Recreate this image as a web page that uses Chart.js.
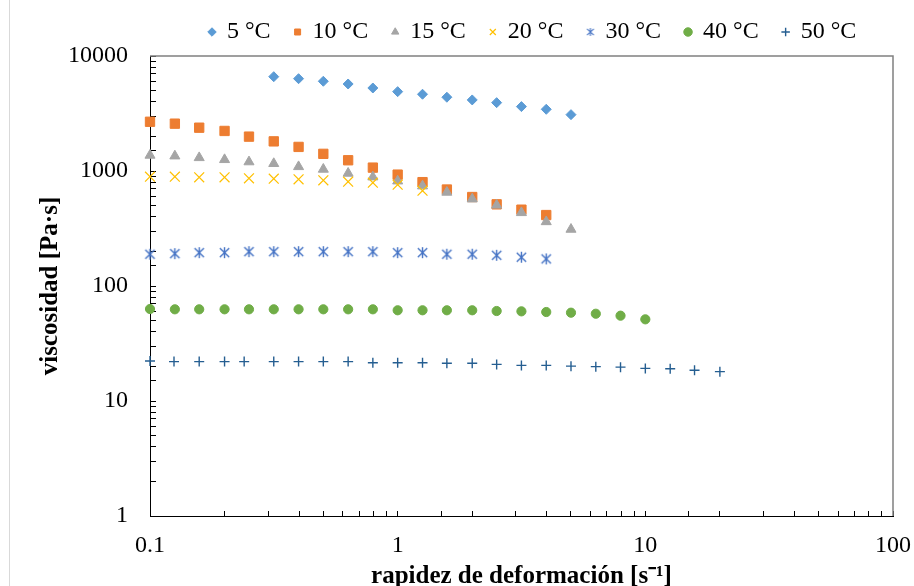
<!DOCTYPE html>
<html>
<head>
<meta charset="utf-8">
<title>Viscosidad vs rapidez de deformación</title>
<script src="https://cdn.jsdelivr.net/npm/chart.js@4.4.1/dist/chart.umd.min.js"></script>
<style>
  html, body { margin: 0; padding: 0; background: #fff; }
  #myChart { display: block; }
</style>
</head>
<body>
<canvas id="myChart" width="914" height="586"></canvas>
<script>
const temps = ["5 °C", "10 °C", "15 °C", "20 °C", "30 °C", "40 °C", "50 °C"];
const colors = ["#5B9BD5", "#ED7D31", "#A5A5A5", "#FFC000", "#4472C4", "#70AD47", "#255E91"];

// shear rate [1/s]
const rate = [0.1, 0.126, 0.158, 0.2, 0.251, 0.316, 0.398, 0.501, 0.631, 0.794,
  1, 1.26, 1.58, 2, 2.51, 3.16, 3.98, 5.01, 6.31, 7.94, 10, 12.6, 15.8, 20];
const rate50 = [0.1, 0.125, 0.158, 0.2, 0.24, 0.316, 0.398, 0.501, 0.631, 0.794,
  1, 1.26, 1.58, 2, 2.51, 3.16, 3.98, 5.01, 6.31, 7.94, 10, 12.6, 15.8, 20];

// viscosity [Pa·s], null where there is no reading
const visc5 = [null, null, null, null, null, 6610, 6350, 6030, 5710, 5270, 4900, 4650,
  4380, 4150, 3930, 3630, 3440, 3090];
const visc10 = [2680, 2580, 2380, 2230, 1990, 1810, 1620, 1410, 1240, 1070, 930, 800,
  690, 594, 513, 461, 414];
const visc15 = [1370, 1350, 1305, 1255, 1200, 1160, 1090, 1035, 955, 887, 818, 741,
  653, 571, 504, 434, 362, 311];
const visc20 = [892, 892, 881, 881, 864, 857, 847, 830, 807, 791, 760, 674];
const visc30 = [189, 191, 195, 195, 199, 199, 199, 199, 199, 199, 195, 195,
  189, 189, 185, 178, 172];
const visc40 = [63.1, 62.7, 62.7, 62.7, 62.7, 62.7, 62.7, 62.7, 62.7, 62.7, 61.5, 61.5,
  61.5, 61.5, 60.6, 60.2, 59.4, 58.6, 57.4, 55.2, 51.3];
const visc50 = [22.3, 22.0, 22.0, 22.0, 22.0, 22.0, 22.0, 22.0, 22.0, 21.5, 21.5, 21.5,
  21.3, 21.3, 20.8, 20.4, 20.4, 20.1, 19.9, 19.7, 19.2, 19.1, 18.5, 18.0];

const xTickLabels = ["0.1", "1", "10", "100"];
const yTickLabels = ["1", "10", "100", "1000", "10000"];

const serif = "'Liberation Serif', 'Times New Roman', serif";
Chart.defaults.font.family = serif;
Chart.defaults.color = "#000";

// asterisk marker: an x with a vertical bar
const makeStar = (size, color, width) => {
  const c = document.createElement("canvas");
  c.width = size;
  c.height = size;
  const g = c.getContext("2d");
  const h = size / 2;
  const d = h - 1;
  g.strokeStyle = color;
  g.lineWidth = width;
  g.beginPath();
  g.moveTo(h, h - d); g.lineTo(h, h + d);
  g.moveTo(h - d * 0.85, h - d * 0.8); g.lineTo(h + d * 0.85, h + d * 0.8);
  g.moveTo(h + d * 0.85, h - d * 0.8); g.lineTo(h - d * 0.85, h + d * 0.8);
  g.stroke();
  return c;
};
const starBig = makeStar(13, colors[4], 1.4);
const starSmall = makeStar(10, colors[4], 1.1);

const toPoints = (xs, ys) => ys.map((v, i) => ({ x: xs[i], y: v }));

const styles = [
  { pointStyle: "rectRot", radius: 5, borderWidth: 1 },
  { pointStyle: "rect", radius: 6.6, borderWidth: 1 },
  { pointStyle: "triangle", radius: 5.8, borderWidth: 1 },
  { pointStyle: "crossRot", radius: 7, borderWidth: 1.2 },
  { pointStyle: starBig, radius: 6, borderWidth: 1.4 },
  { pointStyle: "circle", radius: 4.6, borderWidth: 1 },
  { pointStyle: "cross", radius: 5, borderWidth: 1.4 },
];
const series = [visc5, visc10, visc15, visc20, visc30, visc40, visc50];

const datasets = series.map((ys, i) => ({
  label: temps[i],
  data: toPoints(i === 6 ? rate50 : rate, ys),
  pointStyle: styles[i].pointStyle,
  pointRadius: styles[i].radius,
  borderWidth: styles[i].borderWidth,
  backgroundColor: colors[i],
  borderColor: colors[i],
  order: -i,
  clip: false,
}));

const isDecade = (v) => Math.abs(Math.log10(v) - Math.round(Math.log10(v))) < 1e-6;

// top/right frame of the plot and the outer chart edge
const plotFrame = {
  id: "plotFrame",
  afterLayout(chart) {
    chart.legend.left = 185;
    chart.legend.top = -4;
  },
  beforeDatasetsDraw(chart) {
    const { ctx, chartArea: a } = chart;
    ctx.save();
    ctx.strokeStyle = "#808080";
    ctx.lineWidth = 1.5;
    ctx.beginPath();
    ctx.moveTo(a.left, a.top);
    ctx.lineTo(a.right, a.top);
    ctx.lineTo(a.right, a.bottom);
    ctx.stroke();
    ctx.strokeStyle = "#d9d9d9";
    ctx.lineWidth = 1;
    ctx.beginPath();
    ctx.moveTo(9.5, 0);
    ctx.lineTo(9.5, chart.height);
    ctx.stroke();
    ctx.restore();
  },
};

const ctx = document.getElementById("myChart");

new Chart(ctx, {
  type: "scatter",
  data: { datasets },
  plugins: [plotFrame],
  options: {
    responsive: false,
    animation: false,
    events: [],
    layout: { padding: { top: -2, right: 21, bottom: 0, left: 0 } },
    plugins: {
      tooltip: { enabled: false },
      legend: {
        position: "top",
        align: "start",
        labels: {
          usePointStyle: true,
          boxWidth: 6,
          boxHeight: 6,
          padding: 24,
          font: { size: 24, family: serif },
          color: "#000",
          sort: (a, b) => a.datasetIndex - b.datasetIndex,
          generateLabels: (chart) => {
            const items = Chart.defaults.plugins.legend.labels.generateLabels(chart);
            items.forEach((it) => {
              if (it.pointStyle === starBig) it.pointStyle = starSmall;
            });
            return items;
          },
        },
      },
    },
    scales: {
      x: {
        type: "logarithmic",
        position: "bottom",
        min: 0.1,
        max: 100,
        afterFit: (scale) => {
          scale.height = 70;
          scale.paddingLeft = 0;
          scale.paddingRight = 0;
        },
        border: { display: true, color: "#000", width: 1 },
        grid: { drawOnChartArea: false, drawTicks: true, tickLength: -5, tickColor: "#000" },
        ticks: {
          autoSkip: false,
          maxRotation: 0,
          padding: 20,
          font: { size: 24, family: serif },
          color: "#000",
          callback: (v) => (isDecade(v) ? xTickLabels[Math.round(Math.log10(v)) + 1] : ""),
        },
        title: {
          display: true,
          text: "rapidez de deformación [s⁻¹]",
          font: { size: 25, weight: "bold", family: serif, lineHeight: 1.2 },
          color: "#000",
          padding: { top: 0, bottom: -6 },
        },
      },
      y: {
        type: "logarithmic",
        position: "left",
        min: 1,
        max: 10000,
        afterFit: (scale) => { scale.width = 150; },
        border: { display: true, color: "#000", width: 1 },
        grid: { drawOnChartArea: false, drawTicks: true, tickLength: -6, tickColor: "#000" },
        ticks: {
          autoSkip: false,
          padding: 28,
          font: { size: 24, family: serif },
          color: "#000",
          callback: (v) => (isDecade(v) ? yTickLabels[Math.round(Math.log10(v))] : ""),
        },
        title: {
          display: true,
          text: "viscosidad [Pa·s]",
          font: { size: 25, weight: "bold", family: serif, lineHeight: 1.2 },
          color: "#000",
          padding: { top: 36, bottom: 0 },
        },
      },
    },
  },
});
</script>
</body>
</html>
